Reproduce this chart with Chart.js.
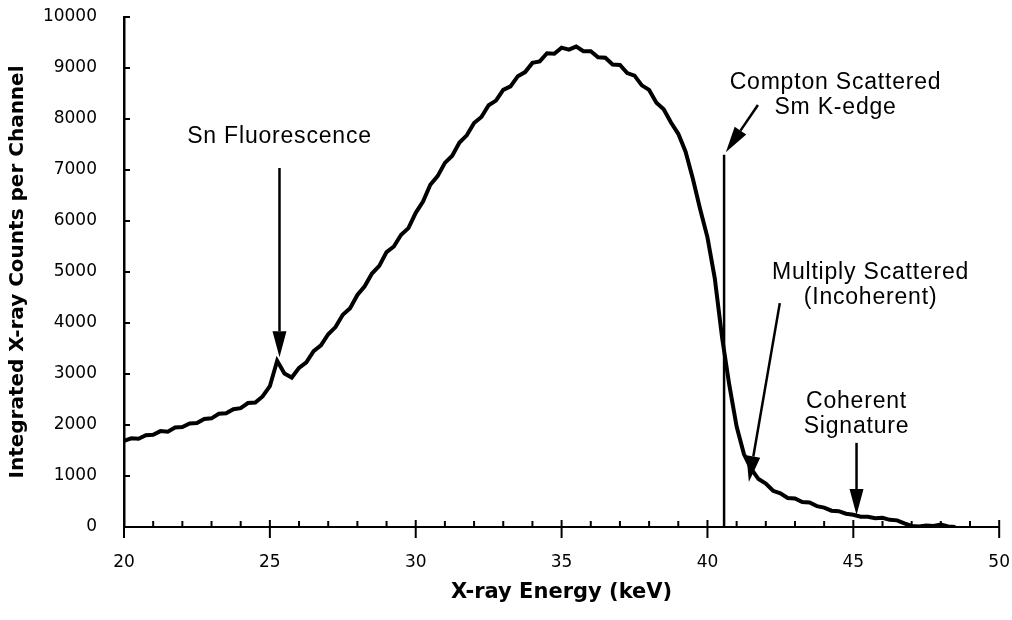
<!DOCTYPE html>
<html>
<head>
<meta charset="utf-8">
<script src="https://cdn.jsdelivr.net/npm/chart.js@4/dist/chart.umd.min.js"></script>
<style>
  html, body { margin: 0; padding: 0; background: #fff; }
</style>
</head>
<body>
<canvas id="spectrum" width="1012" height="620"></canvas>
<script>
// channel energies (keV) and integrated counts
const energies = [
  20.00, 20.25, 20.50, 20.75, 21.00, 21.25, 21.50, 21.75, 22.00, 22.25, 22.50, 22.75,
  23.00, 23.25, 23.50, 23.75, 24.00, 24.25, 24.50, 24.75, 25.00, 25.25, 25.50, 25.75,
  26.00, 26.25, 26.50, 26.75, 27.00, 27.25, 27.50, 27.75, 28.00, 28.25, 28.50, 28.75,
  29.00, 29.25, 29.50, 29.75, 30.00, 30.25, 30.50, 30.75, 31.00, 31.25, 31.50, 31.75,
  32.00, 32.25, 32.50, 32.75, 33.00, 33.25, 33.50, 33.75, 34.00, 34.25, 34.50, 34.75,
  35.00, 35.25, 35.50, 35.75, 36.00, 36.25, 36.50, 36.75, 37.00, 37.25, 37.50, 37.75,
  38.00, 38.25, 38.50, 38.75, 39.00, 39.25, 39.50, 39.75, 40.00, 40.25, 40.50, 40.75,
  41.00, 41.25, 41.50, 41.75, 42.00, 42.25, 42.50, 42.75, 43.00, 43.25, 43.50, 43.75,
  44.00, 44.25, 44.50, 44.75, 45.00, 45.25, 45.50, 45.75, 46.00, 46.25, 46.50, 46.75,
  47.00, 47.25, 47.50, 47.75, 48.00, 48.25, 48.50
];
const counts = [
  1690, 1740, 1730, 1800, 1810, 1880, 1870, 1950, 1960, 2030, 2040, 2120,
  2130, 2220, 2230, 2310, 2330, 2430, 2440, 2560, 2760, 3260, 3010, 2930,
  3120, 3230, 3450, 3560, 3780, 3920, 4160, 4290, 4550, 4720, 4970, 5120,
  5390, 5500, 5730, 5860, 6160, 6380, 6710, 6880, 7140, 7280, 7540, 7680,
  7920, 8040, 8270, 8360, 8570, 8640, 8840, 8920, 9100, 9130, 9290, 9280,
  9400, 9360, 9420, 9330, 9330, 9210, 9200, 9070, 9060, 8900, 8850, 8660,
  8570, 8320, 8190, 7930, 7710, 7360, 6830, 6230, 5680, 4880, 3720, 2780,
  1970, 1430, 1140, 940, 850, 710, 660, 570, 560, 490, 480, 410,
  380, 320, 310, 260, 240, 200, 200, 170, 180, 140, 130, 70,
  20, 10, 30, 20, 50, 10, 0
];

// Compton scattered Sm K-edge marker line
const edgeEnergy = [40.57, 40.57];
const edgeCounts = [0, 7300];

const xTickValues = [20, 25, 30, 35, 40, 45, 50];
const yTickValues = [0, 1000, 2000, 3000, 4000, 5000, 6000, 7000, 8000, 9000, 10000];

// labels with arrows, positions in data units (keV, counts)
const noteLines = [
  ['Sn Fluorescence'],
  ['Compton Scattered', 'Sm K-edge'],
  ['Multiply Scattered', '(Incoherent)'],
  ['Coherent', 'Signature']
];
const noteTextAt = [[25.33, 7650], [44.39, 8705], [45.59, 4980], [45.11, 2450]];
const noteArrowFrom = [[25.33, 7040], [41.73, 8275], [42.48, 4390], [45.11, 1650]];
const noteArrowTo = [[25.33, 3330], [40.63, 7350], [41.42, 880], [45.11, 235]];

function drawArrow(ctx, x1, y1, x2, y2) {
  const ang = Math.atan2(y2 - y1, x2 - x1);
  const len = 26, half = 7;
  const bx = x2 - Math.cos(ang) * len, by = y2 - Math.sin(ang) * len;
  ctx.beginPath();
  ctx.moveTo(x1, y1);
  ctx.lineTo(bx, by);
  ctx.stroke();
  ctx.beginPath();
  ctx.moveTo(x2, y2);
  ctx.lineTo(bx + Math.sin(ang) * half, by - Math.cos(ang) * half);
  ctx.lineTo(bx - Math.sin(ang) * half, by + Math.cos(ang) * half);
  ctx.closePath();
  ctx.fill();
}

// tick marks drawn inward like the original plot
const tickMarks = {
  id: 'tickMarks',
  afterDraw(chart) {
    const ctx = chart.ctx, x = chart.scales.x, y = chart.scales.y;
    const x0 = x.getPixelForValue(20), y0 = y.getPixelForValue(0);
    ctx.save();
    ctx.strokeStyle = '#000';
    ctx.lineWidth = 2;
    for (let v = 20; v <= 50; v++) {
      const px = x.getPixelForValue(v);
      ctx.beginPath();
      if (v % 5 === 0) {
        ctx.moveTo(px, y0 - 7);
        ctx.lineTo(px, y0 + 11);
      } else {
        ctx.moveTo(px, y0 - 6);
        ctx.lineTo(px, y0);
      }
      ctx.stroke();
    }
    yTickValues.forEach(v => {
      const py = y.getPixelForValue(v);
      ctx.beginPath();
      ctx.moveTo(x0, py);
      ctx.lineTo(x0 + 6, py);
      ctx.stroke();
    });
    ctx.restore();
  }
};

const notes = {
  id: 'notes',
  afterDatasetsDraw(chart) {
    const ctx = chart.ctx, x = chart.scales.x, y = chart.scales.y;
    ctx.save();
    ctx.fillStyle = '#000';
    ctx.strokeStyle = '#000';
    ctx.lineWidth = 2.5;
    ctx.font = '23px "Liberation Sans", Arial, sans-serif';
    ctx.letterSpacing = '0.8px';
    ctx.textAlign = 'center';
    ctx.textBaseline = 'middle';
    noteLines.forEach((lines, i) => {
      const tx = x.getPixelForValue(noteTextAt[i][0]);
      let ty = y.getPixelForValue(noteTextAt[i][1]);
      lines.forEach(t => {
        ctx.fillText(t, tx, ty);
        ty += 25;
      });
      drawArrow(ctx,
        x.getPixelForValue(noteArrowFrom[i][0]), y.getPixelForValue(noteArrowFrom[i][1]),
        x.getPixelForValue(noteArrowTo[i][0]), y.getPixelForValue(noteArrowTo[i][1]));
    });
    ctx.restore();
  }
};

// invisible tick marks only push the labels away from the axis
const hiddenGrid = len => ({
  display: true,
  drawOnChartArea: false,
  drawTicks: true,
  tickLength: len,
  color: 'rgba(0,0,0,0)'
});

new Chart(document.getElementById('spectrum'), {
  type: 'line',
  data: {
    datasets: [
      {
        data: energies.map((e, i) => ({ x: e, y: counts[i] })),
        borderColor: '#000',
        borderWidth: 4,
        borderJoinStyle: 'miter',
        pointRadius: 0,
        fill: false
      },
      {
        data: edgeEnergy.map((e, i) => ({ x: e, y: edgeCounts[i] })),
        borderColor: '#000',
        borderWidth: 2.5,
        pointRadius: 0,
        fill: false
      }
    ]
  },
  options: {
    responsive: false,
    animation: false,
    layout: { padding: { top: 17, right: 12, left: 0, bottom: 0 } },
    plugins: { legend: { display: false }, tooltip: { enabled: false } },
    scales: {
      x: {
        type: 'linear',
        min: 20,
        max: 50,
        afterBuildTicks: s => { s.ticks = xTickValues.map(v => ({ value: v })); },
        afterFit: s => { s.height = 93; },
        grid: hiddenGrid(23),
        border: { display: true, color: '#000', width: 2 },
        ticks: {
          color: '#000',
          font: { family: 'DejaVu Sans', size: 17 },
          padding: 2,
          maxRotation: 0,
          autoSkip: false,
          callback: v => String(v)
        },
        title: {
          display: true,
          text: 'X-ray Energy (keV)',
          color: '#000',
          font: { family: 'DejaVu Sans', size: 21, weight: 'bold' },
          padding: { top: 0, bottom: 15 }
        }
      },
      y: {
        min: 0,
        max: 10000,
        afterBuildTicks: s => { s.ticks = yTickValues.map(v => ({ value: v })); },
        afterFit: s => { s.width = 124; },
        grid: hiddenGrid(25),
        border: { display: true, color: '#000', width: 2.5 },
        ticks: {
          color: '#000',
          font: { family: 'DejaVu Sans', size: 17 },
          padding: 2,
          callback: v => String(v)
        },
        title: {
          display: true,
          text: 'Integrated X-ray Counts per Channel',
          color: '#000',
          font: { family: 'DejaVu Sans', size: 20, weight: 'bold' },
          padding: { top: 6, bottom: 0 }
        }
      }
    }
  },
  plugins: [tickMarks, notes]
});
</script>
</body>
</html>
